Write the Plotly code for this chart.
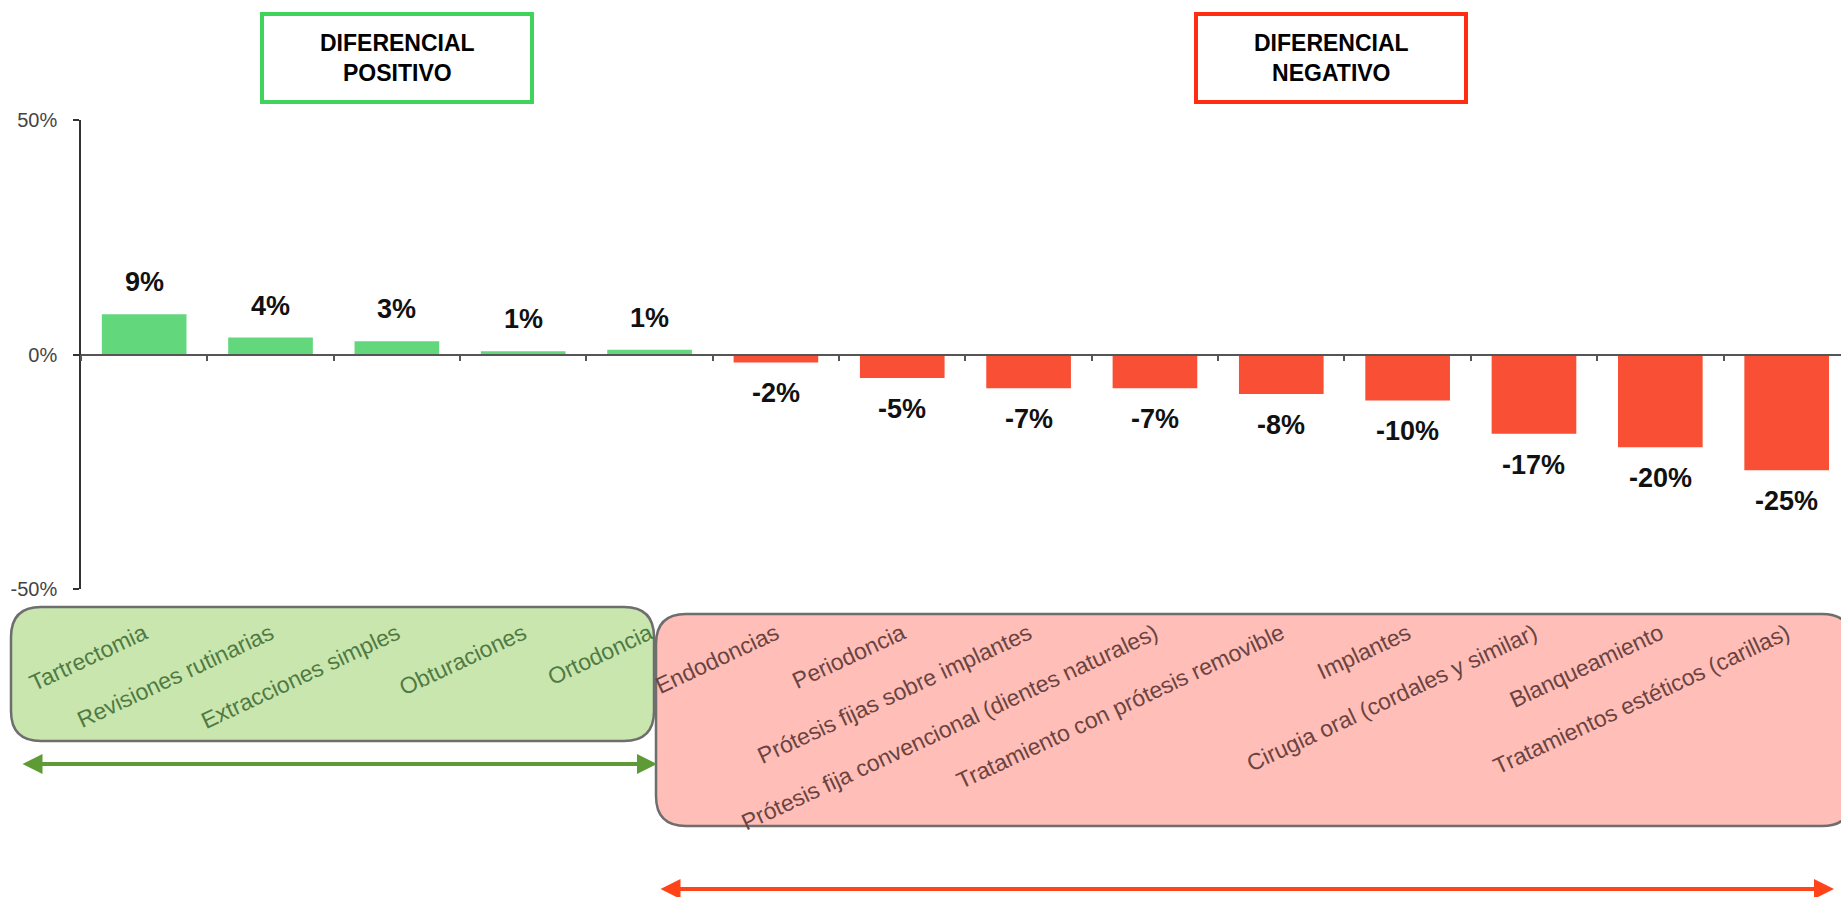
import plotly.graph_objects as go

categories = [
    "Tartrectomia", "Revisiones rutinarias", "Extracciones simples", "Obturaciones",
    "Ortodoncia", "Endodoncias", "Periodoncia", "Prótesis fijas sobre implantes",
    "Prótesis fija convencional (dientes naturales)", "Tratamiento con prótesis removible",
    "Implantes", "Cirugia oral (cordales y similar)", "Blanqueamiento",
    "Tratamientos estéticos (carillas)",
]
values = [8.6, 3.6, 2.8, 0.7, 1.0, -1.7, -5.0, -7.2, -7.2, -8.4, -9.8, -16.9, -19.8, -24.7]
y_ticks = [-50, 0, 50]
y_tick_labels = ["-50%", "0%", "50%"]

W, H = 1841, 897
L, R, T, B = 81, 1841, 120, 589
FONT = "Liberation Sans, Arial, sans-serif"
GREEN_BAR, RED_BAR = "#62D77C", "#F94F34"


def px(x):
    return (x - L) / (R - L)


def py(y):
    return (B - y) / (B - T)


colors = [GREEN_BAR if v >= 0 else RED_BAR for v in values]
label_colors = ["#507A42" if v >= 0 else "#6B4340" for v in values]
ticktext = [f'<span style="color:{c}">{t}</span>' for t, c in zip(categories, label_colors)]

fig = go.Figure()
fig.add_trace(go.Bar(x=categories, y=values, marker=dict(color=colors, line=dict(width=0)),
                     width=0.67, hoverinfo="x+y", showlegend=False))
fig.add_trace(go.Scatter(x=categories, y=values, xaxis="x2", mode="markers",
                         marker=dict(opacity=0), hoverinfo="skip", showlegend=False))

for c, v in zip(categories, values):
    fig.add_annotation(x=c, y=v, text=f"<b>{round(v)}%</b>", showarrow=False,
                       yshift=32 if v >= 0 else -31, yanchor="middle",
                       font=dict(family=FONT, size=27, color="#111"))

shapes = []


def rrect(x0, y0, x1, y1, r, fill):
    pts = (f"M {px(x0 + r)},{py(y0)} L {px(x1 - r)},{py(y0)} Q {px(x1)},{py(y0)} {px(x1)},{py(y0 + r)} "
           f"L {px(x1)},{py(y1 - r)} Q {px(x1)},{py(y1)} {px(x1 - r)},{py(y1)} "
           f"L {px(x0 + r)},{py(y1)} Q {px(x0)},{py(y1)} {px(x0)},{py(y1 - r)} "
           f"L {px(x0)},{py(y0 + r)} Q {px(x0)},{py(y0)} {px(x0 + r)},{py(y0)} Z")
    return dict(type="path", xref="paper", yref="paper", path=pts, fillcolor=fill,
                line=dict(color="#6E6E6E", width=2.5), layer="below")


shapes.append(rrect(11, 607, 654, 741, 30, "#C9E6AE"))
shapes.append(rrect(656, 614, 1852, 826, 30, "#FFBEB7"))

for (x0, x1, col) in [(262, 532, "#3FD35A"), (1196, 1466, "#FF2D12")]:
    shapes.append(dict(type="rect", xref="paper", yref="paper", x0=px(x0), x1=px(x1),
                       y0=py(14), y1=py(102), line=dict(color=col, width=4),
                       fillcolor="rgba(0,0,0,0)"))

fig.update_layout(shapes=shapes)

for cx, txt in [(397, "DIFERENCIAL<br>POSITIVO"), (1331, "DIFERENCIAL<br>NEGATIVO")]:
    fig.add_annotation(xref="paper", yref="paper", x=px(cx), y=py(58), text=f"<b>{txt}</b>",
                       showarrow=False, xanchor="center", yanchor="middle",
                       font=dict(family=FONT, size=23, color="#000"))

for (x0, x1, yy, col) in [(21, 657, 764, "#5E9A36"), (659, 1834, 889, "#FF4419")]:
    fig.add_annotation(xref="paper", yref="paper", x=px(x1), y=py(yy), ax=-(x1 - x0), ay=0,
                       axref="pixel", ayref="pixel", text="", showarrow=True,
                       arrowhead=2, startarrowhead=2, arrowside="end+start",
                       arrowwidth=4, arrowsize=1.0, startarrowsize=1.0, arrowcolor=col,
                       standoff=0, startstandoff=0)

fig.update_layout(
    width=W, height=H,
    margin=dict(l=L, r=W - R, t=T, b=H - B, pad=0),
    paper_bgcolor="white", plot_bgcolor="rgba(0,0,0,0)",
    font=dict(family=FONT),
    bargap=0.33,
    xaxis=dict(type="category", range=[-0.5, 13.43], showline=False, ticks="",
               showgrid=False, zeroline=False, tickmode="array", tickvals=categories,
               ticktext=ticktext, tickangle=-25, ticklabelstandoff=26, automargin=False,
               tickfont=dict(family=FONT, size=23)),
    xaxis2=dict(overlaying="x", matches="x", anchor="free", position=0.5, type="category",
                showline=True, linecolor="#555", linewidth=1.5, ticks="outside",
                tickson="boundaries", ticklen=6, tickcolor="#555", tickwidth=1.5,
                showticklabels=False, showgrid=False, zeroline=False, automargin=False),
    yaxis=dict(range=[-50, 50], tickmode="array", tickvals=y_ticks, ticktext=y_tick_labels,
               showgrid=False, zeroline=False, showline=True, linecolor="#333", linewidth=1.5,
               ticks="outside", ticklen=6, tickcolor="#333", tickwidth=1.5,
               ticklabelstandoff=12, automargin=False,
               tickfont=dict(family=FONT, size=20, color="#444")),
)

fig.write_html("out.html", config={"displayModeBar": False}, post_script=(
    "document.documentElement.style.margin='0';document.body.style.margin='0';"
    "document.body.style.overflow='hidden';"))
